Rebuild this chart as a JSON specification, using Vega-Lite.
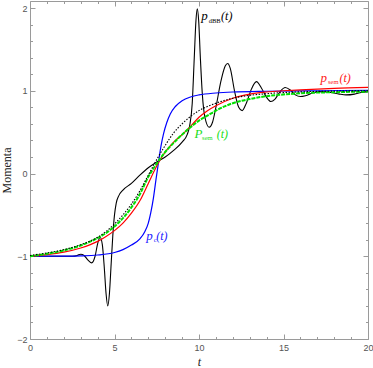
{
  "$schema": "https://vega.github.io/schema/vega-lite/v6.json",
  "width": 338,
  "height": 338,
  "autosize": {"type": "none"},
  "padding": {"left": 30, "top": 1, "right": 5, "bottom": 29},
  "config": {
    "view": {"stroke": "#9a9a9a", "strokeWidth": 1},
    "axis": {"domain": false, "grid": false, "tickColor": "#9a9a9a", "tickWidth": 1, "labelFont": "Liberation Sans", "labelFontSize": 9, "labelColor": "#555555", "labelFlush": false, "labelOverlap": false, "titleFont": "Liberation Serif", "titleFontWeight": "normal", "titleColor": "#222222", "titleFontSize": 12}
  },
  "datasets": {
    "dBB": [
      {"t": 0, "v": -1.0}, {"t": 1, "v": -1.0}, {"t": 2, "v": -1.0}, {"t": 2.5, "v": -1.0}, {"t": 2.8, "v": -0.99}, {"t": 3.0, "v": -0.975}, {"t": 3.2, "v": -0.99}, {"t": 3.45, "v": -1.05}, {"t": 3.65, "v": -1.08}, {"t": 3.85, "v": -1.0}, {"t": 4.0, "v": -0.85}, {"t": 4.15, "v": -0.77}, {"t": 4.28, "v": -0.86}, {"t": 4.4, "v": -1.15}, {"t": 4.5, "v": -1.45}, {"t": 4.6, "v": -1.6}, {"t": 4.7, "v": -1.45}, {"t": 4.8, "v": -1.1}, {"t": 4.9, "v": -0.75}, {"t": 5.0, "v": -0.5}, {"t": 5.1, "v": -0.36}, {"t": 5.25, "v": -0.27}, {"t": 5.5, "v": -0.2}, {"t": 6.0, "v": -0.12}, {"t": 6.5, "v": -0.02}, {"t": 7.0, "v": 0.07}, {"t": 7.5, "v": 0.14}, {"t": 8.0, "v": 0.2}, {"t": 8.5, "v": 0.28}, {"t": 9.0, "v": 0.38}, {"t": 9.3, "v": 0.47}, {"t": 9.45, "v": 0.58}, {"t": 9.6, "v": 0.85}, {"t": 9.72, "v": 1.4}, {"t": 9.82, "v": 1.85}, {"t": 9.9, "v": 1.99}, {"t": 9.98, "v": 1.85}, {"t": 10.08, "v": 1.4}, {"t": 10.2, "v": 0.95}, {"t": 10.35, "v": 0.68}, {"t": 10.6, "v": 0.56}, {"t": 10.8, "v": 0.62}, {"t": 11.0, "v": 0.8}, {"t": 11.3, "v": 1.12}, {"t": 11.55, "v": 1.3}, {"t": 11.7, "v": 1.33}, {"t": 11.85, "v": 1.27}, {"t": 12.1, "v": 1.0}, {"t": 12.35, "v": 0.8}, {"t": 12.55, "v": 0.76}, {"t": 12.8, "v": 0.85}, {"t": 13.1, "v": 1.02}, {"t": 13.4, "v": 1.11}, {"t": 13.7, "v": 1.03}, {"t": 14.0, "v": 0.92}, {"t": 14.25, "v": 0.87}, {"t": 14.5, "v": 0.9}, {"t": 14.8, "v": 0.99}, {"t": 15.1, "v": 1.04}, {"t": 15.4, "v": 1.01}, {"t": 15.7, "v": 0.95}, {"t": 16.0, "v": 0.93}, {"t": 16.3, "v": 0.94}, {"t": 16.8, "v": 0.98}, {"t": 17.3, "v": 0.99}, {"t": 17.8, "v": 0.98}, {"t": 18.3, "v": 0.96}, {"t": 18.7, "v": 0.95}, {"t": 19.2, "v": 0.96}, {"t": 19.6, "v": 0.98}, {"t": 20.0, "v": 0.99}
    ],
    "c": [
      {"t": 0, "v": -1.0}, {"t": 2, "v": -0.998}, {"t": 3, "v": -0.995}, {"t": 4, "v": -0.985}, {"t": 5, "v": -0.955}, {"t": 5.5, "v": -0.92}, {"t": 6, "v": -0.865}, {"t": 6.5, "v": -0.79}, {"t": 6.8, "v": -0.7}, {"t": 7.0, "v": -0.6}, {"t": 7.15, "v": -0.47}, {"t": 7.3, "v": -0.3}, {"t": 7.45, "v": -0.08}, {"t": 7.6, "v": 0.13}, {"t": 7.75, "v": 0.33}, {"t": 7.9, "v": 0.48}, {"t": 8.1, "v": 0.62}, {"t": 8.3, "v": 0.72}, {"t": 8.6, "v": 0.81}, {"t": 9.0, "v": 0.88}, {"t": 9.5, "v": 0.925}, {"t": 10, "v": 0.95}, {"t": 11, "v": 0.973}, {"t": 12, "v": 0.985}, {"t": 14, "v": 0.994}, {"t": 17, "v": 1.0}, {"t": 20, "v": 1.005}
    ],
    "sem": [
      {"t": 0, "v": -1.0}, {"t": 1, "v": -0.98}, {"t": 2, "v": -0.95}, {"t": 3, "v": -0.9}, {"t": 4, "v": -0.82}, {"t": 4.5, "v": -0.76}, {"t": 5, "v": -0.69}, {"t": 5.5, "v": -0.6}, {"t": 6, "v": -0.48}, {"t": 6.5, "v": -0.33}, {"t": 7, "v": -0.12}, {"t": 7.5, "v": 0.09}, {"t": 8, "v": 0.26}, {"t": 8.5, "v": 0.38}, {"t": 9, "v": 0.47}, {"t": 9.5, "v": 0.57}, {"t": 10, "v": 0.68}, {"t": 10.5, "v": 0.76}, {"t": 11, "v": 0.82}, {"t": 12, "v": 0.91}, {"t": 13, "v": 0.96}, {"t": 14, "v": 0.985}, {"t": 15, "v": 1.0}, {"t": 16, "v": 1.012}, {"t": 18, "v": 1.03}, {"t": 20, "v": 1.04}
    ],
    "Sem": [
      {"t": 0, "v": -1.0}, {"t": 1, "v": -0.97}, {"t": 2, "v": -0.93}, {"t": 3, "v": -0.87}, {"t": 4, "v": -0.78}, {"t": 4.5, "v": -0.72}, {"t": 5, "v": -0.64}, {"t": 5.5, "v": -0.54}, {"t": 6, "v": -0.41}, {"t": 6.5, "v": -0.25}, {"t": 7, "v": -0.04}, {"t": 7.5, "v": 0.12}, {"t": 8, "v": 0.26}, {"t": 8.5, "v": 0.37}, {"t": 9, "v": 0.47}, {"t": 9.5, "v": 0.56}, {"t": 10, "v": 0.64}, {"t": 10.5, "v": 0.7}, {"t": 11, "v": 0.76}, {"t": 12, "v": 0.85}, {"t": 13, "v": 0.9}, {"t": 14, "v": 0.935}, {"t": 15, "v": 0.955}, {"t": 16, "v": 0.97}, {"t": 18, "v": 0.983}, {"t": 20, "v": 0.99}
    ],
    "cl": [
      {"t": 0, "v": -0.99}, {"t": 1, "v": -0.96}, {"t": 2, "v": -0.92}, {"t": 3, "v": -0.86}, {"t": 4, "v": -0.77}, {"t": 4.5, "v": -0.7}, {"t": 5, "v": -0.61}, {"t": 5.5, "v": -0.5}, {"t": 6, "v": -0.37}, {"t": 6.5, "v": -0.21}, {"t": 7, "v": -0.02}, {"t": 7.5, "v": 0.17}, {"t": 8, "v": 0.34}, {"t": 8.5, "v": 0.49}, {"t": 9, "v": 0.6}, {"t": 9.5, "v": 0.69}, {"t": 10, "v": 0.76}, {"t": 10.5, "v": 0.81}, {"t": 11, "v": 0.85}, {"t": 12, "v": 0.91}, {"t": 13, "v": 0.945}, {"t": 14, "v": 0.965}, {"t": 15, "v": 0.978}, {"t": 16, "v": 0.987}, {"t": 18, "v": 0.996}, {"t": 20, "v": 1.0}
    ],
    "labels": [
      {"series": "dBB", "t": 10.13, "v": 1.855, "t_end": 11.86, "head": "p", "sub": "dBB"},
      {"series": "sem", "t": 17.19, "v": 1.11, "t_end": 18.86, "head": "p", "sub": "sem"},
      {"series": "Sem", "t": 9.74, "v": 0.433, "t_end": 11.6, "head": "P", "sub": "sem"},
      {"series": "c", "t": 6.88, "v": -0.8, "t_end": 8.02, "head": "p", "sub": "c"}
    ]
  },
  "resolve": {"axis": {"x": "independent", "y": "independent"}},
  "layer": [
    {
      "mark": {"type": "rule", "color": "#c8c8c8", "strokeWidth": 1},
      "encoding": {"y": {"datum": 0, "type": "quantitative", "scale": {"domain": [-2, 2.085], "nice": false, "zero": false}, "axis": null}}
    },
    {
      "data": {"name": "dBB"},
      "mark": {"type": "line", "color": "#000000", "strokeWidth": 1.1, "interpolate": "monotone"},
      "encoding": {
        "x": {"field": "t", "type": "quantitative", "scale": {"domain": [0, 20], "nice": false, "zero": false}, "axis": {"orient": "bottom", "values": [0, 5, 10, 15, 20], "ticks": false, "labelPadding": 4, "title": "t", "titleFontStyle": "italic", "titlePadding": 4}},
        "y": {"field": "v", "type": "quantitative", "scale": {"domain": [-2, 2.085], "nice": false, "zero": false}, "axis": {"orient": "left", "values": [-2, -1, 0, 1, 2], "ticks": false, "labelPadding": 3, "title": "Momenta", "titlePadding": 3}}
      }
    },
    {
      "data": {"name": "c"},
      "mark": {"type": "line", "color": "#0000ff", "strokeWidth": 1.2, "interpolate": "monotone"},
      "encoding": {
        "x": {"field": "t", "type": "quantitative", "scale": {"domain": [0, 20], "nice": false, "zero": false}, "axis": {"orient": "top", "values": [0, 5, 10, 15, 20], "labels": false, "tickSize": -5, "title": null}},
        "y": {"field": "v", "type": "quantitative", "scale": {"domain": [-2, 2.085], "nice": false, "zero": false}, "axis": {"orient": "right", "values": [-2, -1, 0, 1, 2], "labels": false, "tickSize": -5, "title": null}}
      }
    },
    {
      "data": {"name": "sem"},
      "mark": {"type": "line", "color": "#ff0000", "strokeWidth": 1.2, "interpolate": "monotone"},
      "encoding": {
        "x": {"field": "t", "type": "quantitative", "scale": {"domain": [0, 20], "nice": false, "zero": false}, "axis": {"orient": "bottom", "values": [0, 5, 10, 15, 20], "labels": false, "tickSize": -5, "title": null}},
        "y": {"field": "v", "type": "quantitative", "scale": {"domain": [-2, 2.085], "nice": false, "zero": false}, "axis": {"orient": "left", "values": [-2, -1, 0, 1, 2], "labels": false, "tickSize": -5, "title": null}}
      }
    },
    {
      "data": {"name": "Sem"},
      "mark": {"type": "line", "color": "#00e000", "strokeWidth": 2, "strokeDash": [4, 1], "interpolate": "monotone"},
      "encoding": {
        "x": {"field": "t", "type": "quantitative", "scale": {"domain": [0, 20], "nice": false, "zero": false}, "axis": {"orient": "top", "values": [1, 2, 3, 4, 6, 7, 8, 9, 11, 12, 13, 14, 16, 17, 18, 19], "labels": false, "tickSize": -2.5, "title": null}},
        "y": {"field": "v", "type": "quantitative", "scale": {"domain": [-2, 2.085], "nice": false, "zero": false}, "axis": {"orient": "right", "values": [-1.8, -1.6, -1.4, -1.2, -0.8, -0.6, -0.4, -0.2, 0.2, 0.4, 0.6, 0.8, 1.2, 1.4, 1.6, 1.8], "labels": false, "tickSize": -2.5, "title": null}}
      }
    },
    {
      "data": {"name": "cl"},
      "mark": {"type": "line", "color": "#000000", "strokeWidth": 1.1, "strokeDash": [1.5, 1.5], "interpolate": "monotone"},
      "encoding": {
        "x": {"field": "t", "type": "quantitative", "scale": {"domain": [0, 20], "nice": false, "zero": false}, "axis": {"orient": "bottom", "values": [1, 2, 3, 4, 6, 7, 8, 9, 11, 12, 13, 14, 16, 17, 18, 19], "labels": false, "tickSize": -2.5, "title": null}},
        "y": {"field": "v", "type": "quantitative", "scale": {"domain": [-2, 2.085], "nice": false, "zero": false}, "axis": {"orient": "left", "values": [-1.8, -1.6, -1.4, -1.2, -0.8, -0.6, -0.4, -0.2, 0.2, 0.4, 0.6, 0.8, 1.2, 1.4, 1.6, 1.8], "labels": false, "tickSize": -2.5, "title": null}}
      }
    },
    {
      "data": {"name": "labels"},
      "mark": {"type": "text", "align": "left", "baseline": "alphabetic", "font": "Liberation Serif", "fontStyle": "italic", "fontSize": 13},
      "encoding": {
        "x": {"field": "t", "type": "quantitative", "scale": {"domain": [0, 20], "nice": false, "zero": false}, "axis": null},
        "y": {"field": "v", "type": "quantitative", "scale": {"domain": [-2, 2.085], "nice": false, "zero": false}, "axis": null},
        "text": {"field": "head"},
        "color": {"field": "series", "type": "nominal", "scale": {"domain": ["dBB", "c", "sem", "Sem"], "range": ["#000000", "#2020ff", "#ff2020", "#20dd20"]}, "legend": null}
      }
    },
    {
      "data": {"name": "labels"},
      "mark": {"type": "text", "align": "left", "baseline": "alphabetic", "font": "Liberation Serif", "fontSize": 6.5, "dx": 7.5, "dy": 2.5},
      "encoding": {
        "x": {"field": "t", "type": "quantitative", "scale": {"domain": [0, 20], "nice": false, "zero": false}, "axis": null},
        "y": {"field": "v", "type": "quantitative", "scale": {"domain": [-2, 2.085], "nice": false, "zero": false}, "axis": null},
        "text": {"field": "sub"},
        "color": {"field": "series", "type": "nominal", "scale": {"domain": ["dBB", "c", "sem", "Sem"], "range": ["#000000", "#2020ff", "#ff2020", "#20dd20"]}, "legend": null}
      }
    },
    {
      "data": {"name": "labels"},
      "mark": {"type": "text", "align": "right", "baseline": "alphabetic", "font": "Liberation Serif", "fontStyle": "italic", "fontSize": 12, "dx": 2, "text": "(t)"},
      "encoding": {
        "x": {"field": "t_end", "type": "quantitative", "scale": {"domain": [0, 20], "nice": false, "zero": false}, "axis": null},
        "y": {"field": "v", "type": "quantitative", "scale": {"domain": [-2, 2.085], "nice": false, "zero": false}, "axis": null},
        "color": {"field": "series", "type": "nominal", "scale": {"domain": ["dBB", "c", "sem", "Sem"], "range": ["#000000", "#2020ff", "#ff2020", "#20dd20"]}, "legend": null}
      }
    }
  ]
}
